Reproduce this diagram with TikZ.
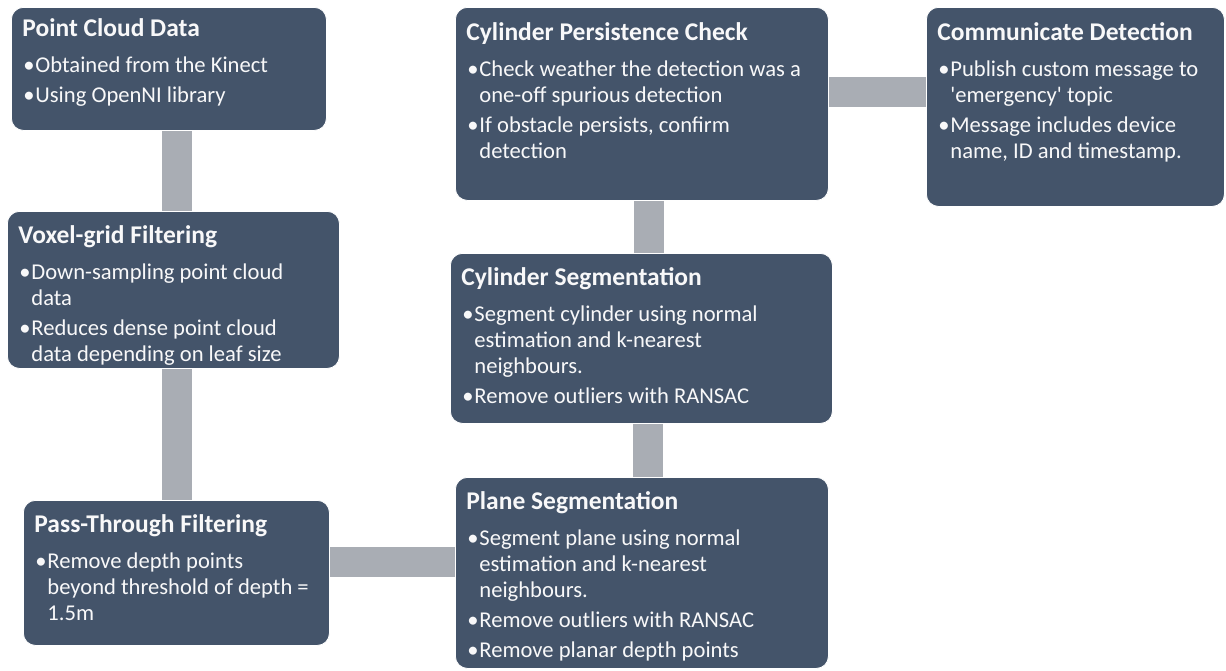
\documentclass[tikz,border=0pt]{standalone}
\usepackage{fontspec}
\setmainfont{Carlito}
\usetikzlibrary{backgrounds}

\definecolor{stagefill}{HTML}{44546A}
\definecolor{linkgray}{HTML}{A9ADB4}

% one bullet paragraph with a hanging indent
\newcommand\stageitem[1]{\par\hangindent=13pt\hangafter=1\noindent
  \makebox[13pt][l]{\hspace{1pt}\textbullet}#1}

% content of a stage box: width, height, title baseline, title, items
\newcommand\stagetext[5]{%
  \parbox[c][#2pt][t]{#1pt}{%
    \leftskip=11pt\rightskip=0pt plus 1fil\parindent=0pt\parskip=0pt
    \noindent{\bfseries\fontsize{25.5}{28}\selectfont\rule{0pt}{#3pt}#4\par}%
    \vspace{6pt}%
    \fontsize{22.6}{26}\selectfont\parskip=4pt
    #5\par}}

\tikzset{
  stage/.style={anchor=north west, inner sep=0pt, fill=stagefill, draw=white,
    line width=0.8pt, rounded corners=12pt, text=white!96!stagefill},
  link/.style={draw=linkgray, line width=30pt, line cap=butt}
}

\begin{document}
\begin{tikzpicture}[x=1pt, y=-1pt]
\useasboundingbox (0,0) rectangle (1226,670);

\node[stage] (pcd) at (11,7) {\stagetext{315}{123}{29}{Point Cloud Data}{%
  \stageitem{Obtained from the Kinect}%
  \stageitem{Using OpenNI library}}};

\node[stage] (vox) at (7,211) {\stagetext{332}{157}{32}{Voxel-grid Filtering}{%
  \stageitem{Down-sampling point cloud\newline data}%
  \stageitem{Reduces dense point cloud\newline data depending on leaf size}}};

\node[stage] (pass) at (23,500) {\stagetext{306}{145}{32}{Pass-Through Filtering}{%
  \stageitem{Remove depth points\newline beyond threshold of depth =\newline 1.5m}}};

\node[stage] (plane) at (455,477) {\stagetext{373}{191}{32}{Plane Segmentation}{%
  \stageitem{Segment plane using normal\newline estimation and k-nearest\newline neighbours.}%
  \stageitem{Remove outliers with RANSAC}%
  \stageitem{Remove planar depth points}}};

\node[stage] (cyl) at (450,253) {\stagetext{382}{170}{32}{Cylinder Segmentation}{%
  \stageitem{Segment cylinder using normal\newline estimation and k-nearest\newline neighbours.}%
  \stageitem{Remove outliers with RANSAC}}};

\node[stage] (cpc) at (455,7) {\stagetext{373}{193}{33}{Cylinder Persistence Check}{%
  \stageitem{Check weather the detection was a\newline one-off spurious detection}%
  \stageitem{If obstacle persists, confirm\newline detection}}};

\node[stage] (comm) at (926,7) {\stagetext{298}{199}{33}{Communicate Detection}{%
  \stageitem{Publish custom message to\newline \textquotesingle emergency\textquotesingle\ topic}%
  \stageitem{Message includes device\newline name, ID and timestamp.}}};

% axes of the connecting bars
\coordinate (leftbar) at (177,0);
\coordinate (midbarlow) at (648,0);
\coordinate (midbarhigh) at (649,0);
\coordinate (lowrow) at (0,562);
\coordinate (toprow) at (0,92);

\begin{scope}[on background layer]
  \fill[white] (0,0) rectangle (1226,670);
  \draw[link] (pcd.south -| leftbar) -- (vox.north -| leftbar);
  \draw[link] (vox.south -| leftbar) -- (pass.north -| leftbar);
  \draw[link] (pass.east |- lowrow) -- (plane.west |- lowrow);
  \draw[link] (plane.north -| midbarlow) -- (cyl.south -| midbarlow);
  \draw[link] (cyl.north -| midbarhigh) -- (cpc.south -| midbarhigh);
  \draw[link] (cpc.east |- toprow) -- (comm.west |- toprow);
\end{scope}
\end{tikzpicture}
\end{document}
